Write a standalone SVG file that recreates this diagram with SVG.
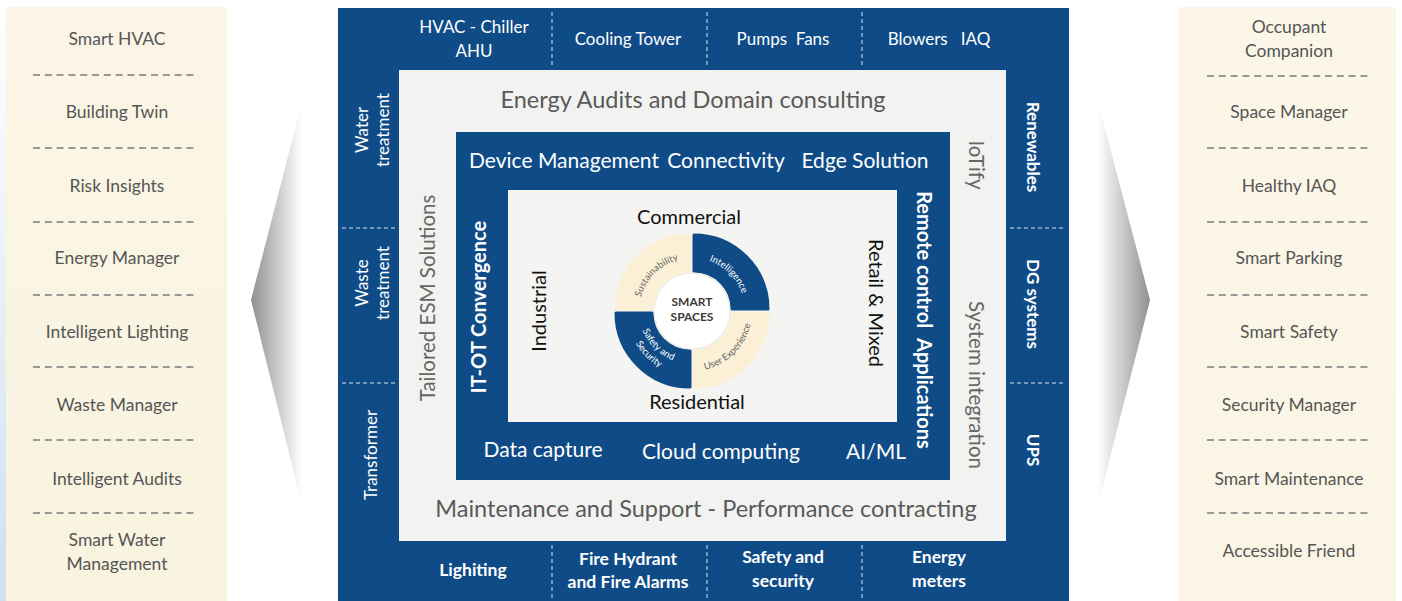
<svg xmlns="http://www.w3.org/2000/svg" width="1402" height="601" viewBox="0 0 1402 601">
<defs>
<linearGradient id="panelL" x1="0" y1="0" x2="0" y2="1"><stop offset="0" stop-color="#fcf5e6"/><stop offset="1" stop-color="#f8f4df"/></linearGradient>
<linearGradient id="panelR" x1="0" y1="0" x2="0" y2="1"><stop offset="0" stop-color="#fcf6e8"/><stop offset="1" stop-color="#fbf5e6"/></linearGradient>
<linearGradient id="edgeL" x1="0" y1="0" x2="0" y2="1"><stop offset="0" stop-color="#ffffff"/><stop offset="1" stop-color="#cfe0ef"/></linearGradient>
<linearGradient id="triL" x1="0" y1="0" x2="1" y2="0"><stop offset="0" stop-color="#909090"/><stop offset="1" stop-color="#ffffff"/></linearGradient>
<linearGradient id="triR" x1="1" y1="0" x2="0" y2="0"><stop offset="0" stop-color="#909090"/><stop offset="1" stop-color="#ffffff"/></linearGradient>
<style>
.t{font-family:Lato,"Liberation Sans",sans-serif}
.pt{font-size:17.5px;fill:#555;text-anchor:middle}
.dash{stroke:#7a7a7a;stroke-width:1.6;stroke-dasharray:7 4.8;fill:none}
.wdash{stroke:#ffffff;stroke-width:1;stroke-dasharray:4 3;fill:none;opacity:.85}
.blue{fill:#0f4c87}
.wt{fill:#ffffff;font-size:17px;text-anchor:middle}
.bw{font-weight:bold}
.gt{fill:#595959;font-size:23.5px;text-anchor:middle}
.gv{fill:#666;font-size:20.5px;text-anchor:middle}
.it{fill:#ffffff;font-size:21px;text-anchor:middle}
.bt{fill:#111;font-size:20px;text-anchor:middle}
.seg{font-size:9.5px}
</style>
</defs>
<rect width="1402" height="601" fill="#ffffff"/>
<rect x="0" y="0" width="6" height="601" fill="url(#edgeL)"/>

<g id="left-panel">
<rect x="6" y="7" width="221" height="594" fill="url(#panelL)"/>
<g class="t pt">
<text x="117" y="45">Smart HVAC</text>
<text x="117" y="118">Building Twin</text>
<text x="117" y="192">Risk Insights</text>
<text x="117" y="264">Energy Manager</text>
<text x="117" y="338">Intelligent Lighting</text>
<text x="117" y="411">Waste Manager</text>
<text x="117" y="485">Intelligent Audits</text>
<text x="117" y="546">Smart Water</text>
<text x="117" y="570">Management</text>
</g>
<path class="dash" d="M33 75H198M33 148H198M33 222H198M33 295H198M33 367H198M33 440H198M33 513H198"/>
</g>

<g id="right-panel">
<rect x="1178" y="7" width="218" height="594" fill="url(#panelR)"/>
<g class="t pt">
<text x="1289" y="33">Occupant</text>
<text x="1289" y="57">Companion</text>
<text x="1289" y="118">Space Manager</text>
<text x="1289" y="192">Healthy IAQ</text>
<text x="1289" y="264">Smart Parking</text>
<text x="1289" y="338">Smart Safety</text>
<text x="1289" y="411">Security Manager</text>
<text x="1289" y="485">Smart Maintenance</text>
<text x="1289" y="557">Accessible Friend</text>
</g>
<path class="dash" d="M1207 76H1371M1207 148H1371M1207 222H1371M1207 295H1371M1207 367H1371M1207 440H1371M1207 513H1371"/>
</g>

<g id="arrow-left"><polygon points="302,102 251,300 302,505" fill="url(#triL)"/></g>
<g id="arrow-right"><polygon points="1098,102 1150,300 1098,505" fill="url(#triR)"/></g>

<g id="outer-frame">
<rect class="blue" x="338" y="8" width="731" height="593"/>
<path class="wdash" d="M552 12V66M707 12V66M862 12V66M552 545V598M707 545V598M862 545V598"/>
<path class="wdash" d="M342 228H396M342 383H396M1010 228H1066M1010 383H1066"/>
<g class="t wt">
<text x="474" y="33">HVAC - Chiller</text>
<text x="474" y="57">AHU</text>
<text x="628" y="45">Cooling Tower</text>
<text x="783" y="45" xml:space="preserve">Pumps  Fans</text>
<text x="939" y="45" xml:space="preserve">Blowers   IAQ</text>
</g>
<g class="t wt bw" style="font-size:17.5px">
<text x="473" y="576">Lighiting</text>
<text x="628" y="565">Fire Hydrant</text>
<text x="628" y="588">and Fire Alarms</text>
<text x="783" y="563">Safety and</text>
<text x="783" y="587">security</text>
<text x="939" y="563">Energy</text>
<text x="939" y="587">meters</text>
</g>
<g class="t wt">
<text transform="translate(368,130) rotate(-90)">Water<tspan x="0" dy="21">treatment</tspan></text>
<text transform="translate(368,283) rotate(-90)">Waste<tspan x="0" dy="21">treatment</tspan></text>
<text transform="translate(377,455) rotate(-90)">Transformer</text>
</g>
<g class="t wt bw">
<text transform="translate(1027,147) rotate(90)">Renewables</text>
<text transform="translate(1027,304) rotate(90)">DG systems</text>
<text transform="translate(1027,450) rotate(90)">UPS</text>
</g>
</g>

<g id="service-box">
<rect x="399" y="70" width="607" height="471" fill="#f2f2f1"/>
<g class="t">
<text class="gt" x="693" y="108">Energy Audits and Domain consulting</text>
<text class="gt" x="706" y="517">Maintenance and Support - Performance contracting</text>
<text class="gv" transform="translate(435,298) rotate(-90)">Tailored ESM Solutions</text>
<text class="gv" transform="translate(969,165) rotate(90)">IoTify</text>
<text class="gv" transform="translate(969,385) rotate(90)">System integration</text>
</g>
</g>

<g id="platform-frame">
<rect class="blue" x="456" y="132" width="494" height="348"/>
<g class="t it">
<text x="564" y="168">Device Management</text>
<text x="726" y="168">Connectivity</text>
<text x="865" y="168">Edge Solution</text>
<text x="543" y="457">Data capture</text>
<text x="721" y="459">Cloud computing</text>
<text x="876" y="459">AI/ML</text>
</g>
<g class="t it bw" style="font-size:20px">
<text transform="translate(486,307) rotate(-90)">IT-OT Convergence</text>
<text transform="translate(917,320) rotate(90)">Remote control<tspan dx="10">Applications</tspan></text>
</g>
</g>

<g id="segments-box">
<rect x="508" y="190" width="389" height="232" fill="#f4f4f3"/>
<g class="t bt">
<text x="689" y="224">Commercial</text>
<text x="697" y="409">Residential</text>
<text transform="translate(546,311) rotate(-90)">Industrial</text>
<text transform="translate(869,303) rotate(90)">Retail &amp; Mixed</text>
</g>
</g>

<g id="smart-spaces" transform="translate(692,311)">
<g stroke-linejoin="round" stroke-width="3">
<path transform="translate(-2,-2)" d="M-74,0A74 74 0 0 1 0,-74L0,-38A38 38 0 0 0 -38,0Z" fill="#fbf0d6" stroke="#fbf0d6"/>
<path transform="translate(2,-2)" d="M0,-74A74 74 0 0 1 74,0L38,0A38 38 0 0 0 0,-38Z" fill="#0f4c87" stroke="#0f4c87"/>
<path transform="translate(2,2)" d="M74,0A74 74 0 0 1 0,74L0,38A38 38 0 0 0 38,0Z" fill="#fbf0d6" stroke="#fbf0d6"/>
<path transform="translate(-2,2)" d="M0,74A74 74 0 0 1 -74,0L-38,0A38 38 0 0 0 0,38Z" fill="#0f4c87" stroke="#0f4c87"/>
</g>
<circle r="38" fill="#ffffff" stroke="#e8e8e8" stroke-width="1"/>
<path id="pSus" d="M-53,0A53 53 0 0 1 0,-53" fill="none"/>
<path id="pInt" d="M0,-53A53 53 0 0 1 53,0" fill="none"/>
<path id="pUx" d="M0,60A60 60 0 0 0 60,0" fill="none"/>
<path id="pSaf1" d="M-53,0A53 53 0 0 0 0,53" fill="none"/>
<path id="pSaf2" d="M-65,0A65 65 0 0 0 0,65" fill="none"/>
<g class="t seg" text-anchor="middle">
<text fill="#666"><textPath href="#pSus" startOffset="50%">Sustainability</textPath></text>
<text fill="#ffffff"><textPath href="#pInt" startOffset="50%">Intelligence</textPath></text>
<text fill="#666"><textPath href="#pUx" startOffset="50%">User Experience</textPath></text>
<text fill="#ffffff"><textPath href="#pSaf1" startOffset="50%">Safety and</textPath><textPath href="#pSaf2" startOffset="50%">Security</textPath></text>
</g>
<g class="t bw" fill="#3a3a3a" font-size="12" text-anchor="middle">
<text x="0" y="-5">SMART</text>
<text x="0" y="10">SPACES</text>
</g>
</g>
</svg>
